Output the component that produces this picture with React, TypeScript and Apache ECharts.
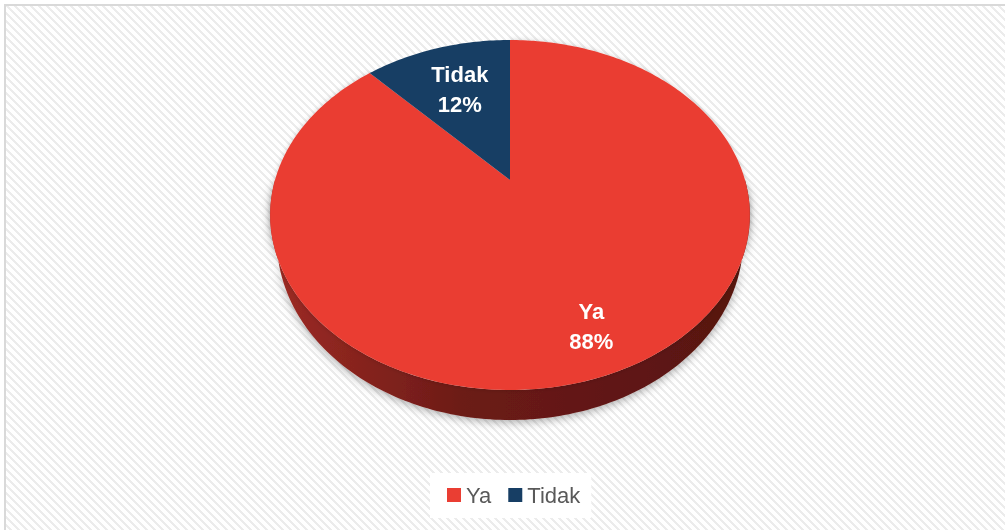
import React, { useEffect, useRef } from "react";
import * as echarts from "echarts";

const categories = ["Ya", "Tidak"];
const values = [88, 12];
const topColors = ["#EA3E33", "#173E64"];
const sideColors = [
  ["#9e2b24", "#6c1b17", "#561410"],
  ["#0e2a45", "#0a1f33", "#08192a"],
];

function makeHatch(): string {
  const c = document.createElement("canvas");
  c.width = 8;
  c.height = 8;
  const ctx = c.getContext("2d")!;
  ctx.fillStyle = "#ffffff";
  ctx.fillRect(0, 0, 8, 8);
  ctx.fillStyle = "#ececec";
  for (let y = 0; y < 8; y++) {
    for (let x = 0; x < 8; x++) {
      const d = (((x - y) % 8) + 8) % 8;
      if (d < 3) ctx.fillRect(x, y, 1, 1);
    }
  }
  return c.toDataURL();
}

export default function App() {
  const ref = useRef<HTMLDivElement>(null);
  useEffect(() => {
    if (!ref.current) return;
    const chart = echarts.init(ref.current, null, { renderer: "svg" });
    const total = values.reduce((a, b) => a + b, 0);
    // layout (perspective projection of the pie disk)
    const CX = 510, CY = 180, W = 235, A = 168, D = 5, H = 24, KB = 0.972;
    const proj = (t: number, f: number, dy: number, kx = 1) => {
      const X = f * Math.sin(t);
      const Z = f * Math.cos(t);
      const s = D / (D + Z);
      return [CX + W * X * s * kx, CY - A * Z * s + dy * s];
    };
    const series = categories.map((name, i) => ({
      type: "custom",
      name,
      coordinateSystem: "none",
      z: i === 0 ? 2 : 3,
      itemStyle: { color: topColors[i] },
      data: [values[i]],
      renderItem: (params: any, api: any) => {
        const v = api.value(0);
        let before = 0;
        for (let k = 0; k < i; k++) before += values[k];
        const t0 = (before / total) * Math.PI * 2;
        const t1 = t0 + (v / total) * Math.PI * 2;
        const steps = Math.max(4, Math.ceil(((t1 - t0) * 180) / Math.PI));
        const topPts: number[][] = [[CX, CY]];
        for (let k = 0; k <= steps; k++) {
          const t = t0 + ((t1 - t0) * k) / steps;
          topPts.push(proj(t, 1, 0));
        }
        const children: any[] = [];
        const s0 = Math.max(t0, Math.PI / 2);
        const s1 = Math.min(t1, (Math.PI * 3) / 2);
        if (s1 > s0) {
          const n = Math.ceil(((s1 - s0) * 180) / Math.PI);
          const up: number[][] = [];
          const down: number[][] = [];
          for (let k = 0; k <= n; k++) {
            const t = s0 + ((s1 - s0) * k) / n;
            up.push(proj(t, 1, 0));
            down.push(proj(t, 1, H, KB));
          }
          children.push({
            type: "polygon",
            shape: { points: up.concat(down.reverse()) },
            style: {
              fill: new echarts.graphic.LinearGradient(
                CX - 240, 0, CX + 240, 0,
                [
                  { offset: 0, color: sideColors[i][0] },
                  { offset: 0.4, color: sideColors[i][1] },
                  { offset: 1, color: sideColors[i][2] },
                ],
                true
              ),
              shadowBlur: 10,
              shadowColor: "rgba(0,0,0,0.35)",
              shadowOffsetY: 2,
            },
          });
        }
        children.push({
          type: "polygon",
          shape: { points: topPts },
          style: {
            fill: topColors[i],
            shadowBlur: i === 0 ? 5 : 0,
            shadowColor: "rgba(0,0,0,0.18)",
          },
        });
        const mid = (t0 + t1) / 2;
        const lp = proj(mid, i === 0 ? 0.8 : 0.65, 0);
        children.push({
          type: "text",
          x: lp[0],
          y: lp[1],
          style: {
            text: `${name}\n${Math.round((v / total) * 100)}%`,
            fill: "#ffffff",
            font: "bold 22px 'Liberation Sans', Arial, sans-serif",
            align: "center",
            verticalAlign: "middle",
            lineHeight: 30,
          },
        });
        return { type: "group", children };
      },
    }));
    chart.setOption({
      animation: false,
      graphic: [
        {
          type: "rect",
          z: -10,
          silent: true,
          shape: { x: 5, y: 5, width: 1010, height: 535 },
          style: {
            fill: { image: makeHatch(), repeat: "repeat" } as any,
            stroke: "#d9d9d9",
            lineWidth: 2,
          },
        },
      ],
      legend: {
        data: categories,
        left: 430,
        top: 473,
        orient: "horizontal",
        icon: "rect",
        itemWidth: 14,
        itemHeight: 14,
        itemGap: 17,
        backgroundColor: "#ffffff",
        padding: [11, 11, 12, 17],
        textStyle: {
          fontSize: 22,
          color: "#595959",
          fontFamily: "'Liberation Sans', Arial, sans-serif",
        },
      },
      series,
    } as any);
    return () => chart.dispose();
  }, []);
  return (
    <div
      ref={ref}
      style={{ position: "fixed", left: 0, top: 0, width: 1005, height: 530 }}
    />
  );
}
